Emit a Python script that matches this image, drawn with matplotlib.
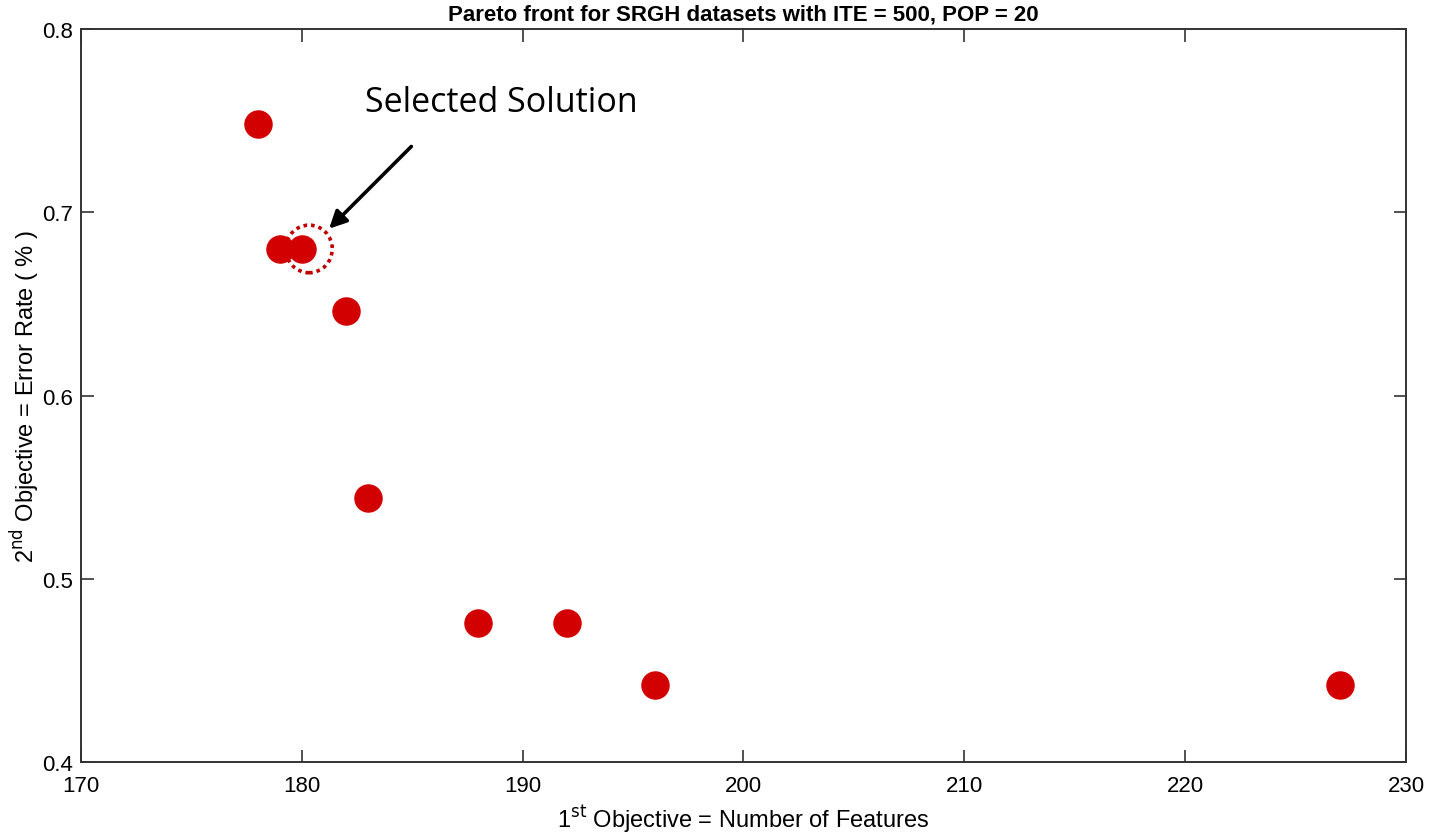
import matplotlib.pyplot as plt
from matplotlib.patches import Ellipse

# number of features vs error rate on the pareto front
n_features = [178, 179, 180, 182, 183, 188, 192, 196, 227]
error_rate = [0.748, 0.680, 0.680, 0.646, 0.544, 0.476, 0.476, 0.442, 0.442]
selected = (180.33, 0.680)

x_ticks = [170, 180, 190, 200, 210, 220, 230]
y_ticks = [0.4, 0.5, 0.6, 0.7, 0.8]

plt.rcParams['font.family'] = ['Liberation Sans', 'DejaVu Sans']

fig = plt.figure(figsize=(14.3, 8.37), dpi=100)
ax = fig.add_axes([0.0566, 0.0884, 0.9266, 0.8757])

ax.plot(n_features, error_rate, 'o', color='#d20000', markersize=19.5, linestyle='none')

# dotted circle round the chosen solution
ax.add_patch(Ellipse(selected, width=2.1, height=0.026, fill=False,
                     edgecolor='#c00000', linestyle=(0, (1, 1.1)), linewidth=2.6))

ax.annotate('', xy=(181.15, 0.690), xytext=(185.05, 0.737),
            arrowprops=dict(arrowstyle='-|>', color='black', lw=2.6,
                            mutation_scale=26))
ax.text(182.85, 0.760, 'Selected Solution', fontsize=24.5,
        family=['Open Sans', 'DejaVu Sans'], va='center', ha='left')

ax.set_xlim(170, 230)
ax.set_ylim(0.4, 0.8)
ax.set_xticks(x_ticks)
ax.set_yticks(y_ticks)
ax.set_xticklabels([str(t) for t in x_ticks])
ax.set_yticklabels([f"{t:.1f}" for t in y_ticks])
ax.tick_params(direction='in', top=True, right=True, length=9, width=1.2,
               labelsize=16, color='#333333')
ax.tick_params(axis='x', pad=9)
ax.tick_params(axis='y', pad=6)
for s in ax.spines.values():
    s.set_linewidth(1.4)
    s.set_color('#333333')

ax.set_title('Pareto front for SRGH datasets with ITE = 500, POP = 20',
             fontsize=16, fontweight='bold', pad=7)
ax.set_xlabel(r'1$^{\mathrm{st}}$ Objective = Number of Features', fontsize=17, labelpad=5)
ax.set_ylabel(r'2$^{\mathrm{nd}}$ Objective = Error Rate ( % )', fontsize=17, labelpad=0)

fig.savefig('out.png', dpi=100)
